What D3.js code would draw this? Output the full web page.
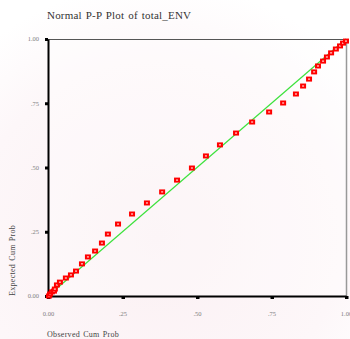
<!DOCTYPE html>
<html>
<head>
<meta charset="utf-8">
<script src="https://cdn.jsdelivr.net/npm/d3@7"></script>
<style>
  html, body { margin: 0; padding: 0; background: #ffffff; }
  svg { display: block; }
</style>
</head>
<body>
<div id="chart"></div>
<script>
// Observed and expected cumulative probabilities for total_ENV
const observed = [0.003, 0.007, 0.013, 0.020, 0.023, 0.030, 0.040, 0.060, 0.077, 0.094,
  0.114, 0.134, 0.158, 0.181, 0.201, 0.235, 0.282, 0.332, 0.383, 0.433,
  0.483, 0.530, 0.577, 0.631, 0.685, 0.742, 0.789, 0.832, 0.856, 0.876,
  0.893, 0.906, 0.923, 0.936, 0.950, 0.966, 0.980, 0.990, 1.000];
const expected = [0.000, 0.008, 0.016, 0.019, 0.027, 0.043, 0.054, 0.070, 0.082, 0.097,
  0.125, 0.152, 0.175, 0.206, 0.241, 0.280, 0.319, 0.362, 0.405, 0.451,
  0.498, 0.545, 0.588, 0.634, 0.677, 0.716, 0.751, 0.786, 0.817, 0.844,
  0.872, 0.895, 0.914, 0.930, 0.946, 0.961, 0.973, 0.984, 0.992];
const xTickValues = [0, 0.25, 0.5, 0.75, 1];
const xTickLabels = ["0.00", ".25", ".50", ".75", "1.00"];
const yTickValues = [0, 0.25, 0.5, 0.75, 1];
const yTickLabels = ["0.00", ".25", ".50", ".75", "1.00"];

const W = 350, H = 339;
const margin = { left: 48, right: 4, top: 39, bottom: 43 };
const serif = "'Liberation Serif', 'DejaVu Serif', serif";

const svg = d3.select("#chart").append("svg")
  .attr("width", W).attr("height", H);

// faint background tint
const defs = svg.append("defs");
const grad = defs.append("radialGradient").attr("id", "bgTint")
  .attr("cx", "0.45").attr("cy", "0.7").attr("r", "0.75");
grad.append("stop").attr("offset", "0").attr("stop-color", "#fbf0f3");
grad.append("stop").attr("offset", "0.7").attr("stop-color", "#fdf7f9");
grad.append("stop").attr("offset", "1").attr("stop-color", "#ffffff");
svg.append("rect").attr("width", W).attr("height", H).attr("fill", "url(#bgTint)");

const x = d3.scaleLinear().domain([0, 1]).range([margin.left, W - margin.right]);
const y = d3.scaleLinear().domain([0, 1]).range([H - margin.bottom, margin.top]);

// plot frame: light top/right edges
svg.append("rect")
  .attr("x", x(0)).attr("y", y(1))
  .attr("width", x(1) - x(0)).attr("height", y(0) - y(1))
  .attr("fill", "#ffffff").attr("fill-opacity", 0.35);
svg.append("line").attr("x1", x(0)).attr("x2", x(1)).attr("y1", y(1) + 0.5).attr("y2", y(1) + 0.5)
  .attr("stroke", "#555").attr("stroke-width", 1);
svg.append("line").attr("x1", x(1) + 0.5).attr("x2", x(1) + 0.5).attr("y1", y(1)).attr("y2", y(0))
  .attr("stroke", "#999").attr("stroke-width", 1.5);

// reference diagonal
svg.append("line")
  .attr("x1", x(0)).attr("y1", y(0)).attr("x2", x(1)).attr("y2", y(1))
  .attr("stroke", "#3de23d").attr("stroke-width", 1.2);

// axes
const xAxis = d3.axisBottom(x).tickValues(xTickValues)
  .tickFormat((d, i) => xTickLabels[i]).tickSize(0).tickPadding(15);
const yAxis = d3.axisLeft(y).tickValues(yTickValues)
  .tickFormat((d, i) => yTickLabels[i]).tickSize(0).tickPadding(9);

const gx = svg.append("g").attr("transform", `translate(0,${y(0)})`).call(xAxis);
const gy = svg.append("g").attr("transform", `translate(${x(0)},0)`).call(yAxis);

[gx, gy].forEach(g => {
  g.select(".domain").attr("stroke", "#000").attr("stroke-width", 2);
  g.selectAll("text")
    .attr("font-family", serif)
    .attr("font-size", 6.5).attr("fill", "#808080");
});
gy.selectAll("text").attr("dy", "0.3em");

// small square tick marks
gx.selectAll(".tick").append("rect")
  .attr("x", -1.5).attr("y", 0).attr("width", 3.5).attr("height", 3).attr("fill", "#000");
gy.selectAll(".tick").append("rect")
  .attr("x", -3).attr("y", -1.5).attr("width", 3).attr("height", 3).attr("fill", "#000");

// data points
svg.append("g").selectAll("rect")
  .data(observed.map((o, i) => [o, expected[i]]))
  .join("rect")
  .attr("x", d => x(d[0]) - 2)
  .attr("y", d => y(d[1]) - 1.5)
  .attr("width", 4).attr("height", 3)
  .attr("fill", "#fff").attr("stroke", "#f00").attr("stroke-width", 2);

// titles
svg.append("text")
  .attr("x", 47).attr("y", 19)
  .attr("font-family", serif)
  .attr("font-size", 11).attr("letter-spacing", 0.2).attr("word-spacing", 1)
  .attr("fill", "#333")
  .text("Normal P-P Plot of total_ENV");

svg.append("text")
  .attr("x", 47).attr("y", 337)
  .attr("font-family", serif)
  .attr("font-size", 8).attr("letter-spacing", 0.3).attr("word-spacing", 0.8)
  .attr("fill", "#444")
  .text("Observed Cum Prob");

svg.append("text")
  .attr("transform", `translate(15,${y(0)}) rotate(-90)`)
  .attr("font-family", serif)
  .attr("font-size", 8).attr("letter-spacing", 0.3).attr("word-spacing", 0.8)
  .attr("fill", "#444")
  .text("Expected Cum Prob");
</script>
</body>
</html>
